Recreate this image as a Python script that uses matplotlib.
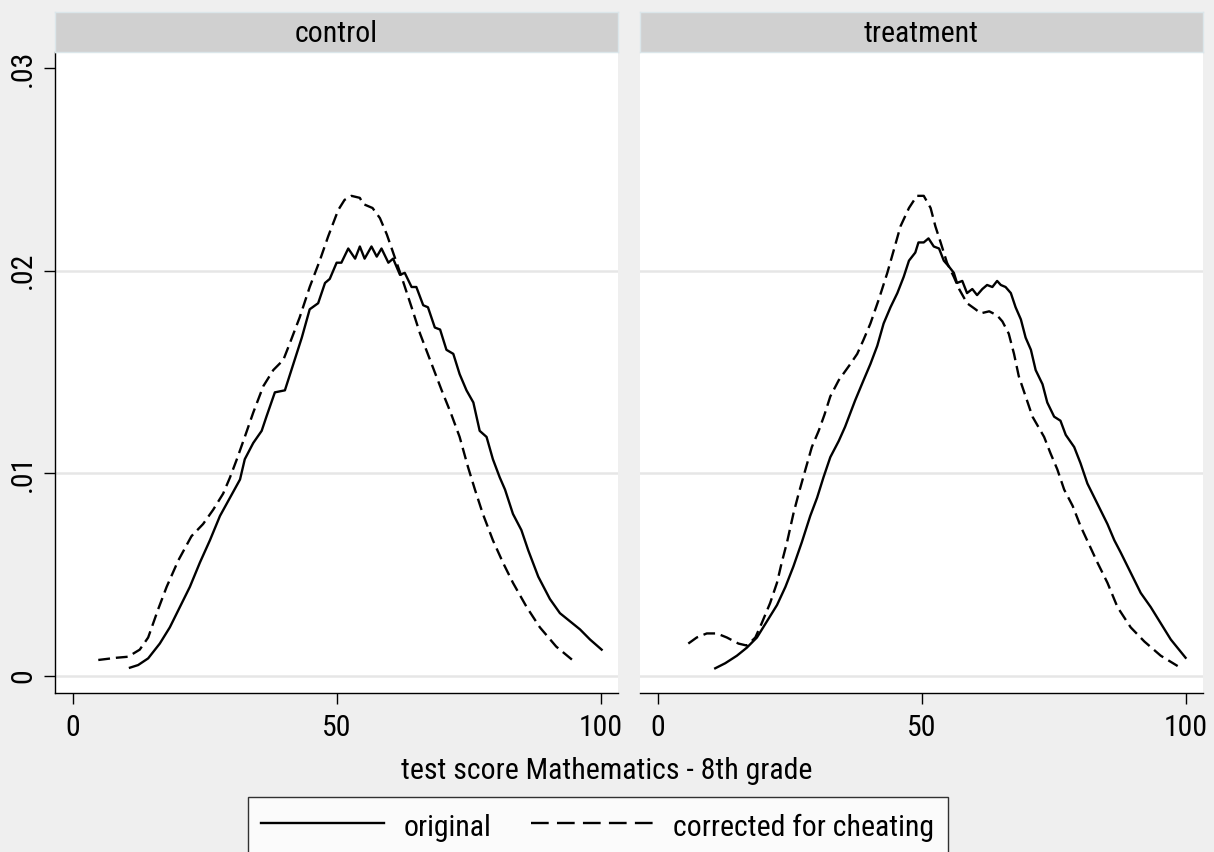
import numpy as np
import matplotlib
matplotlib.use("Agg")
import matplotlib.pyplot as plt
from matplotlib import font_manager
from matplotlib.font_manager import FontProperties
from matplotlib.lines import Line2D

# density of test scores
ctrl_orig_x = [10.85, 12.4, 14.3, 16.5, 18.4, 20.3, 22.2, 24.1, 26.0, 27.9,
               29.8, 31.7, 32.6, 34.2, 35.8, 36.7, 38.3, 40.2, 41.8, 43.4,
               44.9, 46.5, 47.8, 48.7, 50.0, 50.9, 52.2, 53.5, 54.4, 55.3,
               56.6, 57.6, 58.5, 59.8, 60.7, 62.0, 62.9, 64.2, 65.1, 66.4,
               67.3, 68.6, 69.6, 70.8, 72.1, 73.3, 74.6, 75.9, 77.1, 78.4,
               79.6, 80.9, 81.9, 83.4, 85.0, 86.3, 88.2, 90.4, 92.3, 94.2,
               96.1, 98.0, 100.2]
ctrl_orig_y = [0.00041, 0.00054, 0.00087, 0.0016, 0.0024, 0.0034, 0.0044, 0.0056, 0.0067, 0.0079,
               0.0088, 0.0097, 0.0107, 0.0115, 0.0121, 0.0128, 0.0140, 0.0141, 0.0154, 0.0167,
               0.0181, 0.0184, 0.0194, 0.0196, 0.0204, 0.0204, 0.0211, 0.0206, 0.0212, 0.0206,
               0.0212, 0.0207, 0.0211, 0.0204, 0.0206, 0.0198, 0.0199, 0.0192, 0.0192, 0.0183,
               0.0182, 0.0172, 0.0171, 0.0161, 0.0159, 0.0149, 0.0141, 0.0135, 0.0121, 0.0118,
               0.0107, 0.0098, 0.0092, 0.0080, 0.0072, 0.0062, 0.0049, 0.0038, 0.0031, 0.0027,
               0.0023, 0.0018, 0.0013]

ctrl_corr_x = [4.85, 8.3, 10.5, 12.7, 14.3, 16.2, 17.8, 20.0, 22.5, 24.7,
               26.6, 28.5, 29.8, 31.1, 32.6, 34.2, 36.1, 38.0, 39.9, 41.1,
               43.0, 44.9, 46.8, 48.4, 50.3, 51.5, 52.8, 54.4, 55.0, 56.8,
               58.2, 59.5, 60.7, 62.3, 64.2, 65.8, 67.7, 69.9, 71.6, 73.3,
               74.9, 76.2, 77.7, 79.6, 81.5, 83.4, 86.0, 88.5, 91.6, 95.4]
ctrl_corr_y = [0.00079, 0.0009, 0.00095, 0.0013, 0.0019, 0.0033, 0.0044, 0.0057, 0.0069, 0.0075,
               0.0082, 0.0090, 0.0098, 0.0107, 0.0118, 0.0130, 0.0143, 0.0151, 0.0156, 0.0164,
               0.0177, 0.0192, 0.0205, 0.0217, 0.0230, 0.0235, 0.0237, 0.0236, 0.0233, 0.0231,
               0.0226, 0.0218, 0.0209, 0.0197, 0.0182, 0.0169, 0.0156, 0.0141, 0.0130, 0.0118,
               0.0103, 0.0092, 0.0080, 0.0067, 0.0056, 0.0046, 0.0034, 0.0024, 0.00145, 0.00063]

treat_orig_x = [10.9, 12.8, 15.0, 16.9, 18.8, 20.7, 22.6, 24.2, 25.7, 27.3,
                28.9, 30.2, 31.4, 32.7, 34.3, 35.5, 37.4, 39.0, 40.3, 41.6,
                42.8, 44.1, 45.4, 46.6, 47.6, 48.8, 49.4, 50.4, 51.3, 52.3,
                53.3, 54.2, 55.2, 56.1, 56.7, 57.7, 58.6, 59.6, 60.5, 61.5,
                62.4, 63.4, 64.3, 65.0, 65.9, 66.9, 67.8, 68.8, 69.7, 70.7,
                71.6, 72.9, 73.8, 75.1, 76.3, 77.3, 78.9, 80.1, 81.4, 83.3,
                85.2, 86.5, 87.7, 89.6, 91.5, 93.4, 95.3, 97.2, 100.0]
treat_orig_y = [0.00038, 0.00063, 0.0010, 0.0014, 0.0019, 0.0027, 0.0035, 0.0044, 0.0054, 0.0066,
                0.0079, 0.0088, 0.0098, 0.0108, 0.0116, 0.0123, 0.0136, 0.0146, 0.0154, 0.0163,
                0.0174, 0.0182, 0.0189, 0.0197, 0.0205, 0.0209, 0.0214, 0.0214, 0.0216, 0.0212,
                0.0211, 0.0205, 0.0202, 0.0199, 0.0194, 0.0195, 0.0189, 0.0191, 0.0188, 0.0191,
                0.0193, 0.0192, 0.0195, 0.0193, 0.0192, 0.0189, 0.0182, 0.0176, 0.0167, 0.0161,
                0.0151, 0.0144, 0.0135, 0.0128, 0.0126, 0.0119, 0.0113, 0.0105, 0.0095, 0.0085,
                0.0075, 0.0067, 0.0061, 0.0051, 0.0041, 0.0034, 0.0026, 0.0018, 0.0009]

treat_corr_x = [5.8, 7.4, 9.3, 11.2, 13.1, 15.3, 16.9, 18.5, 19.7, 21.3,
                22.6, 23.5, 24.5, 25.7, 26.7, 28.0, 29.2, 30.5, 31.6, 32.7,
                34.3, 36.5, 37.8, 39.0, 40.3, 41.9, 43.5, 44.7, 46.0, 47.6,
                49.1, 50.4, 51.7, 52.6, 53.6, 54.8, 56.1, 57.1, 58.6, 60.2,
                61.2, 62.8, 64.3, 65.3, 66.5, 67.5, 68.4, 69.7, 71.0, 73.2,
                74.4, 75.7, 77.0, 78.6, 80.1, 81.7, 83.3, 85.2, 87.1, 89.6,
                92.2, 95.3, 98.5]
treat_corr_y = [0.0016, 0.0019, 0.0021, 0.0021, 0.0019, 0.0016, 0.0015, 0.0019, 0.0026, 0.0036,
                0.0046, 0.0056, 0.0066, 0.0080, 0.0090, 0.0102, 0.0113, 0.0121, 0.0129, 0.0138,
                0.0146, 0.0154, 0.0159, 0.0166, 0.0174, 0.0186, 0.0199, 0.0210, 0.0222, 0.0231,
                0.0237, 0.0237, 0.0231, 0.0222, 0.0214, 0.0204, 0.0197, 0.0191, 0.0184, 0.0181,
                0.0179, 0.0180, 0.0178, 0.0175, 0.0169, 0.0159, 0.0148, 0.0138, 0.0128, 0.0118,
                0.0110, 0.0102, 0.0092, 0.0084, 0.0074, 0.0065, 0.0056, 0.0046, 0.0034, 0.0024,
                0.0017, 0.0010, 0.00049]

panels = ["control", "treatment"]
series = {
    "control": (ctrl_orig_x, ctrl_orig_y, ctrl_corr_x, ctrl_corr_y),
    "treatment": (treat_orig_x, treat_orig_y, treat_corr_x, treat_corr_y),
}
x_ticks = [0, 50, 100]
y_ticks = [0, 0.01, 0.02, 0.03]
y_ticklabels = ["0", ".01", ".02", ".03"]


def pick_narrow_font():
    # Stata draws in a narrow sans; look for any condensed face installed
    pref = ["Liberation Sans Narrow", "Arial Narrow", "Liberation Sans", "Noto Sans",
            "Open Sans", "Roboto", "DejaVu Sans", "Lato", "Inter"]
    found = []
    for f in font_manager.fontManager.ttflist:
        narrow = ("Narrow" in f.name or "Condensed" in f.name
                  or str(f.stretch) in ("condensed", "semi-condensed", "extra-condensed"))
        if not narrow or f.style != "normal":
            continue
        if str(f.weight) not in ("400", "normal", "regular", "book"):
            continue
        if "Mono" in f.name or "Serif" in f.name:
            continue
        rank = len(pref)
        for k, p in enumerate(pref):
            if f.name.startswith(p):
                rank = k
                break
        found.append((rank, f.fname))
    if found:
        found.sort()
        return found[0][1], True
    return None, False


fname, is_narrow = pick_narrow_font()
if is_narrow:
    FS = 21.5
    base = FontProperties(fname=fname, size=FS)
else:
    FS = 16.5
    base = FontProperties(family=["Liberation Sans", "DejaVu Sans"], size=FS)

W, H = 1214, 852
fig = plt.figure(figsize=(W / 100, H / 100), dpi=100, facecolor="#efefef")

LW = 1.7
DASH = (5, 2.5)
lefts = [55, 640]
width = 563

for i, name in enumerate(panels):
    x0 = lefts[i] / W
    ax = fig.add_axes([x0, 1 - 693 / H, width / W, (693 - 52) / H])
    ax.set_facecolor("white")
    ax.set_xlim(-3.35, 103.3)
    ax.set_ylim(-0.00084, 0.0308)

    for g in [0, 0.01, 0.02]:
        ax.axhline(g, color="#e6e6e6", lw=1.8, zorder=0)

    ox, oy, cx, cy = series[name]
    ax.plot(ox, oy, color="black", lw=LW)
    ax.plot(cx, cy, color="black", lw=LW, linestyle=(0, DASH))

    for s in ["top", "right"]:
        ax.spines[s].set_visible(False)
    ax.spines["bottom"].set_linewidth(1.0)
    ax.set_xticks(x_ticks)
    ax.set_xticklabels([str(t) for t in x_ticks], fontproperties=base)
    ax.tick_params(axis="x", length=8, width=1.0, pad=7)

    if i == 0:
        ax.spines["left"].set_linewidth(1.0)
        ax.set_yticks(y_ticks)
        ax.set_yticklabels(y_ticklabels, rotation=90, va="center", fontproperties=base)
        ax.tick_params(axis="y", length=8, width=1.0, pad=5)
    else:
        ax.spines["left"].set_visible(False)
        ax.set_yticks([])

    # facet strip
    strip = fig.add_axes([x0, 1 - 52 / H, width / W, 40 / H])
    strip.set_xticks([])
    strip.set_yticks([])
    strip.set_facecolor("#d0d0d0")
    for s in strip.spines.values():
        s.set_color("#dbe6ea")
        s.set_linewidth(1.0)
    strip.text(0.5, 0.45, name, ha="center", va="center", fontproperties=base,
               transform=strip.transAxes)

fig.text(607 / W, 1 - 771 / H, "test score Mathematics - 8th grade",
         ha="center", va="center", fontproperties=base)

handles = [
    Line2D([], [], color="black", lw=LW),
    Line2D([], [], color="black", lw=LW, linestyle=(0, (7.5, 3.5))),
]
leg = fig.legend(handles, ["original", "corrected for cheating"],
                 loc="upper left", bbox_to_anchor=(248 / W, 1 - 797 / H),
                 ncol=2, frameon=True, fancybox=False, prop=base,
                 handlelength=4.1, handleheight=1.2, handletextpad=0.65,
                 columnspacing=1.35, borderpad=0.45, borderaxespad=0)
leg.get_frame().set_edgecolor("black")
leg.get_frame().set_linewidth(1.0)
leg.get_frame().set_facecolor("white")

fig.savefig("out.png", dpi=100, facecolor=fig.get_facecolor())
